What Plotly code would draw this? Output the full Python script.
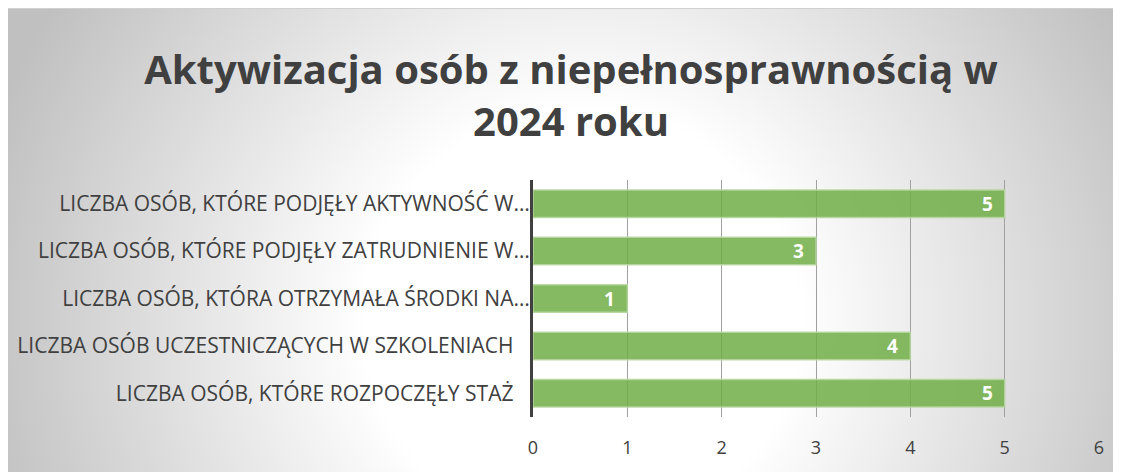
import base64
import plotly.graph_objects as go

categories = [
    "LICZBA OSÓB, KTÓRE ROZPOCZĘŁY STAŻ\u00a0\u00a0\u00a0",
    "LICZBA OSÓB UCZESTNICZĄCYCH W SZKOLENIACH\u00a0\u00a0\u00a0",
    "LICZBA OSÓB, KTÓRA OTRZYMAŁA ŚRODKI NA…",
    "LICZBA OSÓB, KTÓRE PODJĘŁY ZATRUDNIENIE W…",
    "LICZBA OSÓB, KTÓRE PODJĘŁY AKTYWNOŚĆ W…",
]
values = [5, 4, 1, 3, 5]
x_ticks = [0, 1, 2, 3, 4, 5, 6]
title_text = "Aktywizacja osób z niepełnosprawnością w<br>2024 roku"

W, H = 1121, 472
ML, MR, MT, MB = 525, 30, 172, 63
pw, ph = W - ML - MR, H - MT - MB

# radial gradient background (white centre, grey edges)
bw, bh = W, H
cx, cy, r = 574, 313, 620
svg = f"""<svg xmlns='http://www.w3.org/2000/svg' width='{bw}' height='{bh}' viewBox='0 0 {bw} {bh}'>
<defs><radialGradient id='g' gradientUnits='userSpaceOnUse' cx='{cx}' cy='{cy}' r='{r}'
gradientTransform='translate({cx} {cy}) scale(1 0.97) translate({-cx} {-cy})'>
<stop offset='0' stop-color='#ffffff'/><stop offset='0.35' stop-color='#ffffff'/>
<stop offset='1' stop-color='#c0c0c0'/></radialGradient></defs>
<rect x='0' y='0' width='{bw}' height='{bh}' fill='url(#g)'/>
<line x1='0' y1='0.5' x2='{bw}' y2='0.5' stroke='#d0d0d0' stroke-width='1'/>
</svg>"""
src = "data:image/svg+xml;base64," + base64.b64encode(svg.encode()).decode()

fig = go.Figure()
fig.add_trace(go.Bar(
    x=values, y=categories, orientation="h",
    marker=dict(color="rgba(112,173,71,0.85)",
                line=dict(color="rgba(181,214,159,0.9)", width=1.5)),
    hoverinfo="skip",
))

for v, c in zip(values, categories):
    fig.add_annotation(x=v, y=c, xref="x", yref="y", text=f"<b>{v}</b>",
                       showarrow=False, xanchor="right", xshift=-10,
                       font=dict(family="Open Sans", size=19, color="white"))

fig.add_layout_image(dict(
    source=src, xref="paper", yref="paper",
    x=-ML / pw, y=(H - MB) / ph,
    sizex=bw / pw, sizey=bh / ph,
    xanchor="left", yanchor="top", sizing="stretch", layer="below",
))

fig.update_layout(
    width=W, height=H,
    margin=dict(l=ML, r=MR, t=MT, b=MB, autoexpand=False),
    paper_bgcolor="white", plot_bgcolor="rgba(0,0,0,0)",
    bargap=0.42, showlegend=False,
    title=dict(text=f"<b>{title_text}</b>", x=563 / W, xanchor="center",
               y=1 - 76 / H, yanchor="middle", automargin=False,
               font=dict(family="Open Sans", size=40, color="#404040")),
    xaxis=dict(range=[0, 6], tickvals=x_ticks, showgrid=True, gridcolor="#a0a0a0",
               gridwidth=1, zeroline=False, showline=False, automargin=False,
               tickfont=dict(family="Open Sans", size=18, color="#404040"),
               ticklabelstandoff=18, fixedrange=True),
    yaxis=dict(range=[-0.5, 4.5], showline=True, linecolor="#404040", linewidth=3,
               showgrid=False, zeroline=False, automargin=False,
               tickfont=dict(family="Open Sans", size=21, color="#404040"),
               ticklabelstandoff=-4, fixedrange=True),
)

fig.write_html("out.html")
